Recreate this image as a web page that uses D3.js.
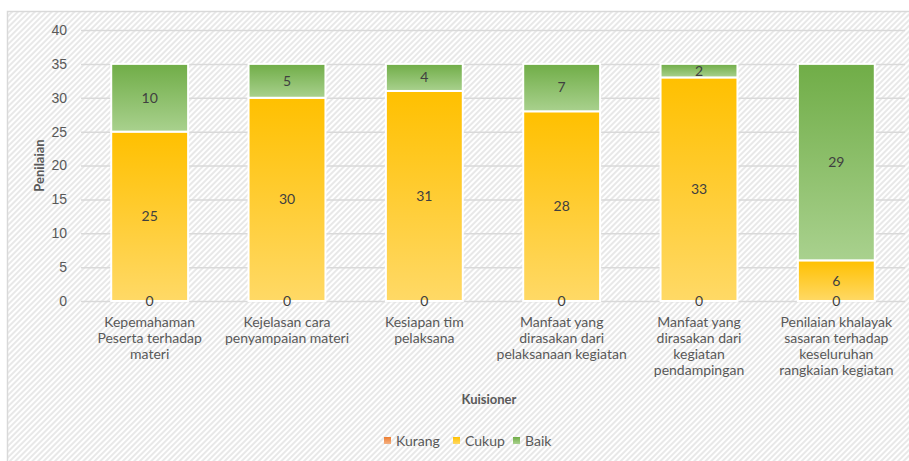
<!DOCTYPE html>
<html>
<head>
  <meta charset="utf-8">
  <style>
    body { margin: 0; background: #fff; }
    svg { font-family: Lato, "Open Sans", sans-serif; }
    .tick text { fill: #595959; font-size: 14px; }
    .lbl { fill: #404040; font-size: 14px; text-anchor: middle; }
  </style>
</head>
<body>
<script src="https://cdn.jsdelivr.net/npm/d3@7"></script>
<script>
const categories = [
  ["Kepemahaman", "Peserta terhadap", "materi"],
  ["Kejelasan cara", "penyampaian materi"],
  ["Kesiapan tim", "pelaksana"],
  ["Manfaat yang", "dirasakan dari", "pelaksanaan kegiatan"],
  ["Manfaat yang", "dirasakan dari", "kegiatan", "pendampingan"],
  ["Penilaian khalayak", "sasaran terhadap", "keseluruhan", "rangkaian kegiatan"]
];
const seriesNames = ["Kurang", "Cukup", "Baik"];
const kurang = [0, 0, 0, 0, 0, 0];
const cukup = [25, 30, 31, 28, 33, 6];
const baik = [10, 5, 4, 7, 2, 29];
const yTicks = [0, 5, 10, 15, 20, 25, 30, 35, 40];

const width = 909, height = 461;
const margin = { top: 30, right: 4, bottom: 160, left: 81 };
const innerW = width - margin.left - margin.right;
const innerH = height - margin.top - margin.bottom;

const svg = d3.select("body").append("svg")
  .attr("width", width).attr("height", height);

const defs = svg.append("defs");
const pat = defs.append("pattern")
  .attr("id", "hatch").attr("patternUnits", "userSpaceOnUse")
  .attr("width", 4).attr("height", 4)
  .attr("patternTransform", "rotate(45)");
pat.append("rect").attr("width", 4).attr("height", 4).attr("fill", "#fff");
pat.append("rect").attr("width", 2).attr("height", 4).attr("fill", "#e8e8e8");

const grads = {
  Kurang: ["#ed7d31", "#f4b183"],
  Cukup: ["#ffc000", "#ffd966"],
  Baik: ["#70ad47", "#a9d18e"]
};
Object.entries(grads).forEach(([k, c]) => {
  const g = defs.append("linearGradient").attr("id", "g" + k)
    .attr("x1", 0).attr("x2", 0).attr("y1", 0).attr("y2", 1);
  g.append("stop").attr("offset", "0%").attr("stop-color", c[0]);
  g.append("stop").attr("offset", "100%").attr("stop-color", c[1]);
});

// chart background with border
svg.append("rect")
  .attr("x", 7.5).attr("y", 11.5).attr("width", width).attr("height", height)
  .attr("fill", "url(#hatch)").attr("stroke", "#d9d9d9").attr("stroke-width", 1.5);

const g = svg.append("g").attr("transform", `translate(${margin.left},${margin.top})`);

const x = d3.scaleBand().domain(d3.range(categories.length)).range([0, innerW])
  .paddingInner(0.44).paddingOuter(0.22);
const y = d3.scaleLinear().domain([0, 40]).range([innerH, 0]);

// gridlines
g.append("g")
  .call(d3.axisLeft(y).tickValues(yTicks).tickSize(-innerW).tickPadding(14))
  .call(a => a.select(".domain").remove())
  .call(a => a.selectAll(".tick line").attr("stroke", "#d9d9d9").attr("stroke-width", 1.5));

const rows = categories.map((c, i) => ({ i, Kurang: kurang[i], Cukup: cukup[i], Baik: baik[i] }));
const stacked = d3.stack().keys(seriesNames)(rows);

stacked.forEach(s => {
  g.selectAll(null).data(s).enter().append("rect")
    .attr("x", d => x(d.data.i))
    .attr("y", d => y(d[1]))
    .attr("width", x.bandwidth())
    .attr("height", d => y(d[0]) - y(d[1]))
    .attr("fill", `url(#g${s.key})`)
    .attr("stroke", "#fff").attr("stroke-width", 2)
    .attr("display", d => d[1] - d[0] > 0 ? null : "none");
});

stacked.forEach(s => {
  g.selectAll(null).data(s).enter().append("text")
    .attr("class", "lbl")
    .attr("x", d => x(d.data.i) + x.bandwidth() / 2)
    .attr("y", d => y((d[0] + d[1]) / 2))
    .attr("dy", "0.35em")
    .text(d => d[1] - d[0]);
});

// category labels
const xa = g.append("g").attr("transform", `translate(0,${innerH})`);
categories.forEach((lines, i) => {
  const t = xa.append("text")
    .attr("x", x(i) + x.bandwidth() / 2).attr("y", 26)
    .attr("text-anchor", "middle").attr("fill", "#595959").attr("font-size", 14);
  lines.forEach((l, j) => t.append("tspan").attr("x", x(i) + x.bandwidth() / 2).attr("dy", j ? 16 : 0).text(l));
});

svg.append("text")
  .attr("x", margin.left + innerW / 2 - 4).attr("y", 404)
  .attr("text-anchor", "middle").attr("font-weight", "bold")
  .attr("font-size", 13).attr("fill", "#595959").text("Kuisioner");

svg.append("text")
  .attr("transform", `translate(44,${margin.top + innerH / 2}) rotate(-90)`)
  .attr("text-anchor", "middle").attr("font-weight", "bold")
  .attr("font-size", 13).attr("fill", "#595959").text("Penilaian");

// legend
const legX = [384, 453, 513];
const leg = svg.append("g");
seriesNames.forEach((n, i) => {
  leg.append("rect").attr("x", legX[i]).attr("y", 437).attr("width", 7).attr("height", 7)
    .attr("fill", `url(#g${n})`);
  leg.append("text").attr("x", legX[i] + 12).attr("y", 441).attr("dy", "0.35em")
    .attr("font-size", 14).attr("fill", "#595959").text(n);
});
</script>
</body>
</html>
